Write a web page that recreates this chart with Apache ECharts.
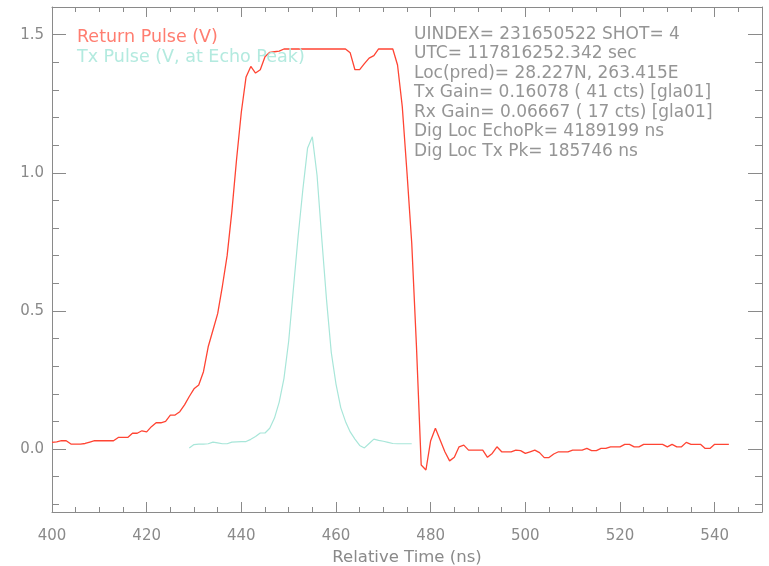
<!DOCTYPE html>
<html>
<head>
<meta charset="utf-8">
<script src="https://cdn.jsdelivr.net/npm/echarts@6/dist/echarts.min.js"></script>
<style>
  html, body { margin: 0; padding: 0; background: #fff; }
  #main { width: 769px; height: 566px; }
</style>
</head>
<body>
<div id="main"></div>
<script>
// return pulse, one sample per ns from 400 to 543
var returnStart = 400;
var returnPulse = [
  0.024, 0.026, 0.03, 0.03, 0.018, 0.018, 0.018, 0.02, 0.025, 0.03,
  0.03, 0.03, 0.03, 0.03, 0.042, 0.042, 0.042, 0.057, 0.057, 0.066,
  0.062, 0.081, 0.095, 0.095, 0.10, 0.123, 0.123, 0.135, 0.16, 0.19,
  0.218, 0.232, 0.28, 0.37, 0.43, 0.49, 0.59, 0.70, 0.86, 1.05,
  1.22, 1.347, 1.385, 1.361, 1.373, 1.42, 1.436, 1.438, 1.44, 1.448,
  1.448, 1.448, 1.448, 1.448, 1.448, 1.448, 1.448, 1.448, 1.448, 1.448,
  1.448, 1.448, 1.448, 1.434, 1.373, 1.373, 1.395, 1.415, 1.424, 1.448,
  1.448, 1.448, 1.448, 1.39, 1.24, 1.0, 0.746, 0.371, -0.058, -0.076,
  0.03, 0.075, 0.033, -0.01, -0.043, -0.03, 0.008, 0.014, -0.004, -0.004,
  -0.004, -0.004, -0.03, -0.016, 0.008, -0.01, -0.01, -0.01, -0.004, -0.006,
  -0.016, -0.01, -0.004, -0.013, -0.031, -0.031, -0.018, -0.01, -0.01, -0.01,
  -0.004, -0.004, -0.004, 0.002, -0.006, -0.006, 0.002, 0.002, 0.008, 0.008,
  0.008, 0.017, 0.017, 0.008, 0.008, 0.017, 0.017, 0.017, 0.017, 0.017,
  0.008, 0.017, 0.008, 0.008, 0.024, 0.017, 0.017, 0.017, 0.002, 0.002,
  0.017, 0.017, 0.017, 0.017
];
// transmit pulse, one sample per ns from 429 to 476
var txStart = 429;
var txPulse = [
  0.004, 0.016, 0.018, 0.018, 0.019, 0.025, 0.022, 0.019, 0.019, 0.025,
  0.026, 0.027, 0.027, 0.035, 0.045, 0.058, 0.058, 0.075, 0.112, 0.17,
  0.255, 0.39, 0.58, 0.77, 0.94, 1.09, 1.13, 0.99, 0.76, 0.54,
  0.35, 0.235, 0.15, 0.10, 0.062, 0.036, 0.013, 0.004, 0.02, 0.036,
  0.031, 0.028, 0.024, 0.02, 0.019, 0.019, 0.019, 0.019
];
var yMajor = [0.0, 0.5, 1.0, 1.5];
var yMinor = [-0.2, -0.1, 0.0, 0.1, 0.2, 0.3, 0.4, 0.5, 0.6, 0.7, 0.8, 0.9,
  1.0, 1.1, 1.2, 1.3, 1.4, 1.5];
var infoLines = [
  'UINDEX= 231650522 SHOT= 4',
  'UTC= 117816252.342 sec',
  'Loc(pred)= 28.227N, 263.415E',
  'Tx Gain= 0.16078 ( 41 cts) [gla01]',
  'Rx Gain= 0.06667 ( 17 cts) [gla01]',
  'Dig Loc EchoPk= 4189199 ns',
  'Dig Loc Tx Pk= 185746 ns'
];

function toPairs(start, vals) {
  return vals.map(function (v, i) { return [start + i, v]; });
}

var axisGray = '#8a8a8a';
var font = 'DejaVu Sans';
var yMin = -0.228, yMax = 1.6;

function yAxisDef(pos, values, len, labels, showLine) {
  return {
    type: 'value', position: pos, min: yMin, max: yMax,
    axisLine: { show: showLine, lineStyle: { color: axisGray, width: 1 } },
    axisTick: { show: true, inside: true, length: len, customValues: values,
      lineStyle: { color: axisGray, width: 1 } },
    axisLabel: labels ? { show: true, customValues: yMajor, margin: 8, color: axisGray,
      fontFamily: font, fontSize: 15, formatter: function (v) { return v.toFixed(1); } }
      : { show: false },
    splitLine: { show: false }
  };
}

function xAxisDef(pos, labels) {
  return {
    type: 'value', position: pos, min: 400, max: 550, interval: 20,
    axisLine: { show: true, onZero: false, lineStyle: { color: axisGray, width: 1 } },
    axisTick: { show: true, inside: true, length: 10, lineStyle: { color: axisGray } },
    minorTick: { show: true, splitNumber: 4, length: 5, lineStyle: { color: axisGray } },
    axisLabel: { show: labels, showMaxLabel: false, margin: 17, color: axisGray,
      fontFamily: font, fontSize: 15 },
    splitLine: { show: false },
    name: labels ? 'Relative Time (ns)' : '',
    nameLocation: 'middle', nameGap: 31,
    nameTextStyle: { color: axisGray, fontFamily: font, fontSize: 16.5 }
  };
}

var chart = echarts.init(document.getElementById('main'), null, { renderer: 'canvas' });

var option = {
  animation: false,
  backgroundColor: '#fff',
  grid: { left: 52, right: 7, top: 7, bottom: 54, outerBoundsMode: 'none', containLabel: false },
  legend: {
    orient: 'vertical', left: 67, top: 23, icon: 'none', itemWidth: 0, itemGap: 2,
    selectedMode: false,
    textStyle: { fontFamily: font, fontSize: 17.5 },
    data: [
      { name: 'Return Pulse (V)', textStyle: { color: '#ff7d70' } },
      { name: 'Tx Pulse (V, at Echo Peak)', textStyle: { color: '#b3eadf' } }
    ]
  },
  xAxis: [xAxisDef('bottom', true), xAxisDef('top', false)],
  yAxis: [
    yAxisDef('left', yMajor, 14, true, true),
    yAxisDef('left', yMinor, 7, false, false),
    yAxisDef('right', yMajor, 14, false, true),
    yAxisDef('right', yMinor, 7, false, false)
  ],
  series: [
    {
      name: 'Return Pulse (V)', type: 'line', showSymbol: false, symbol: 'none',
      data: toPairs(returnStart, returnPulse),
      lineStyle: { color: '#ff4433', width: 1.3 },
      itemStyle: { color: '#ff4433' }
    },
    {
      name: 'Tx Pulse (V, at Echo Peak)', type: 'line', showSymbol: false, symbol: 'none',
      data: toPairs(txStart, txPulse),
      lineStyle: { color: '#a8e6d9', width: 1.2 },
      itemStyle: { color: '#a8e6d9' }
    }
  ],
  graphic: infoLines.map(function (txt, i) {
    return {
      type: 'text', left: 414, top: 26 + i * 19.5, silent: true,
      style: { text: txt, fill: '#959595', font: '17px "DejaVu Sans"' }
    };
  })
};

chart.setOption(option);
window.addEventListener('resize', chart.resize);
</script>
</body>
</html>
